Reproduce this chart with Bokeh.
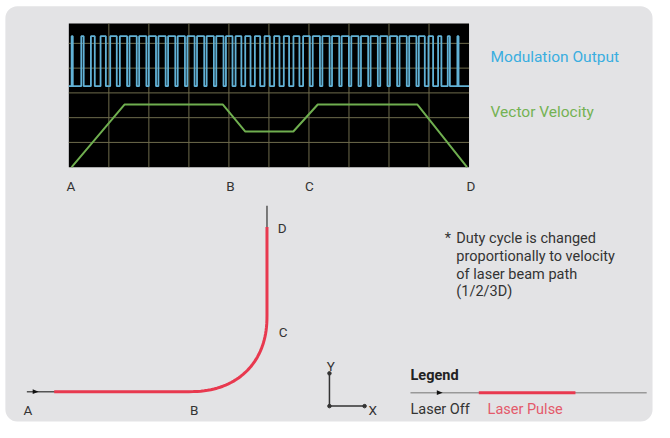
import numpy as np
from bokeh.plotting import figure
from bokeh.models import Range1d, BoxAnnotation
from bokeh.embed import file_html
from bokeh.resources import INLINE
from bokeh.core.properties import value

# ---------------- data ----------------
# oscilloscope: time in grid divisions (0..10), amplitude in grid divisions
vel_t = [0.07, 1.39, 3.85, 4.41, 5.61, 6.22, 8.71, 9.95]
vel_v = [0.0, 2.53, 2.53, 1.44, 1.44, 2.53, 2.53, 0.0]
duty = [0.12, 0.25, 0.40, 0.55, 0.68,
        0.75, 0.75, 0.75, 0.75, 0.75, 0.75, 0.75, 0.75, 0.75, 0.75, 0.75,
        0.68, 0.60,
        0.55, 0.55, 0.55, 0.55, 0.55,
        0.62, 0.70,
        0.75, 0.75, 0.75, 0.75, 0.75, 0.75, 0.75, 0.75, 0.75, 0.75, 0.75,
        0.62, 0.48, 0.34, 0.22, 0.12]
wave_low, wave_high = 3.27, 5.29
wave_start, wave_end = 0.07, 9.95
grid_x = [1, 2, 3, 4, 5, 6, 7, 8, 9]
grid_y = [1, 2, 3, 4, 5]
osc_labels = ["A", "B", "C", "D"]
osc_label_t = [0.05, 4.04, 6.01, 10.05]

# beam path schematic labels and note
path_labels = ["A", "B", "C", "D"]
note_lines = ["Duty cycle is changed", "proportionally to velocity",
              "of laser beam path", "(1/2/3D)"]

FONT = value("Roboto")
TXT = "#333333"
RED = "#e8394f"

# figure fits the window; drawing space is the 670x438 reference canvas
W, H = 654, 422
CW, CH = 670, 438
p = figure(width=W, height=H, output_backend="svg", toolbar_location=None,
           x_range=Range1d(0, CW), y_range=Range1d(CH, 0),
           x_axis_type=None, y_axis_type=None,
           min_border=0, min_border_left=0, min_border_right=0,
           min_border_top=0, min_border_bottom=0)
p.outline_line_color = None
p.grid.visible = False
p.background_fill_color = "white"
p.border_fill_color = "white"

# oscilloscope scale: 0..10 divisions across canvas x 70..480, 0 at canvas y 173
OL, OR_, OB, DY = 70, 480, 173, 25.7
DX = (OR_ - OL) / 10
p.extra_x_ranges = {"osc": Range1d((0 - OL) / DX, (CW - OL) / DX)}
p.extra_y_ranges = {"osc": Range1d((OB - CH) / DY, (OB - 0) / DY)}
osc = dict(x_range_name="osc", y_range_name="osc")

# panel
p.add_layout(BoxAnnotation(left=5, right=668, top=6, bottom=437,
                           fill_color="#e3e3e5", fill_alpha=1, line_color=None,
                           border_radius=12, level="underlay"))

# scope screen
p.quad(left=0, right=10, bottom=0, top=5.8, fill_color="black", line_color=None, **osc)
p.segment(x0=grid_x, x1=grid_x, y0=[0] * len(grid_x), y1=[5.8] * len(grid_x),
          line_color="#6e6b4c", line_width=1, **osc)
p.segment(x0=[0] * len(grid_y), x1=[10] * len(grid_y), y0=grid_y, y1=grid_y,
          line_color="#6e6b4c", line_width=1, **osc)

# modulation square wave
period = (wave_end - wave_start) / len(duty)
wx, wy = [0.0], [wave_low]
t = wave_start
for d in duty:
    wx += [t, t, t + d * period, t + d * period]
    wy += [wave_low, wave_high, wave_high, wave_low]
    t += period
wx.append(10.0)
wy.append(wave_low)
p.line(wx, wy, line_color="#62b2d6", line_width=1.8, **osc)

# vector velocity
p.line(vel_t, vel_v, line_color="#6fae4f", line_width=2, **osc)

p.text(x=osc_label_t, y=[-0.78] * 4, text=osc_labels, text_font=FONT,
       text_font_size="13.5px", text_color=TXT, text_align="center",
       text_baseline="alphabetic", **osc)

p.text(x=[502], y=[59], text=["Modulation Output"], text_font=FONT,
       text_font_size="15.5px", text_color="#3aaee0", text_baseline="alphabetic")
p.text(x=[502], y=[116], text=["Vector Velocity"], text_font=FONT,
       text_font_size="15.5px", text_color="#74b253", text_baseline="alphabetic")

# beam path
theta = np.linspace(0, np.pi / 2, 40)
n = 2.25
arc_x = 193 + 80 * np.sin(theta) ** (2 / n)
arc_y = 327 + 79 * np.cos(theta) ** (2 / n)
red_x = [55] + list(arc_x) + [273]
red_y = [406] + list(arc_y) + [235]
p.line([27, 56], [406, 406], line_color="#555555", line_width=1.5)
p.line([273, 273], [236, 213], line_color="#555555", line_width=1.5)
p.line(red_x, red_y, line_color=RED, line_width=3)
p.patch([33, 39, 33], [403.5, 406, 408.5], fill_color="#111111", line_color=None)

p.text(x=[28, 198.5], y=[425, 425], text=path_labels[:2], text_font=FONT,
       text_font_size="13.5px", text_color=TXT, text_align="center",
       text_baseline="alphabetic")
p.text(x=[285, 284], y=[344, 236], text=path_labels[2:], text_font=FONT,
       text_font_size="13.5px", text_color=TXT, text_align="left",
       text_baseline="alphabetic")

# axes icon
p.line([337, 337, 373], [387, 421, 421], line_color="#333333", line_width=1.5)
p.scatter([337, 373, 337], [387, 421, 421], size=3.5, color="#333333")
p.text(x=[338.5], y=[379], text=["Y"], text_font=FONT, text_font_size="13.5px",
       text_color=TXT, text_align="center", text_baseline="alphabetic")
p.text(x=[377], y=[425], text=["X"], text_font=FONT, text_font_size="13.5px",
       text_color=TXT, text_align="left", text_baseline="alphabetic")

# note
p.text(x=[455], y=[247], text=["*"], text_font=FONT, text_font_size="14.5px",
       text_color=TXT, text_baseline="alphabetic")
p.text(x=[467] * 4, y=[247, 265.5, 284, 302.5], text=note_lines, text_font=FONT,
       text_font_size="14.5px", text_color=TXT, text_baseline="alphabetic")

# legend
p.text(x=[420], y=[389], text=["Legend"], text_font=FONT, text_font_size="14.5px",
       text_font_style="bold", text_color="#222222", text_baseline="alphabetic")
p.line([420, 662], [407, 407], line_color="#999999", line_width=1.5)
p.line([490, 589], [407, 407], line_color=RED, line_width=3)
p.patch([447, 453, 447], [404.5, 407, 409.5], fill_color="#111111", line_color=None)
p.text(x=[420], y=[425], text=["Laser Off"], text_font=FONT, text_font_size="14.5px",
       text_color=TXT, text_baseline="alphabetic")
p.text(x=[499], y=[425], text=["Laser Pulse"], text_font=FONT, text_font_size="14.5px",
       text_color="#e45a6b", text_baseline="alphabetic")

open("out.html", "w").write(file_html(p, INLINE))
